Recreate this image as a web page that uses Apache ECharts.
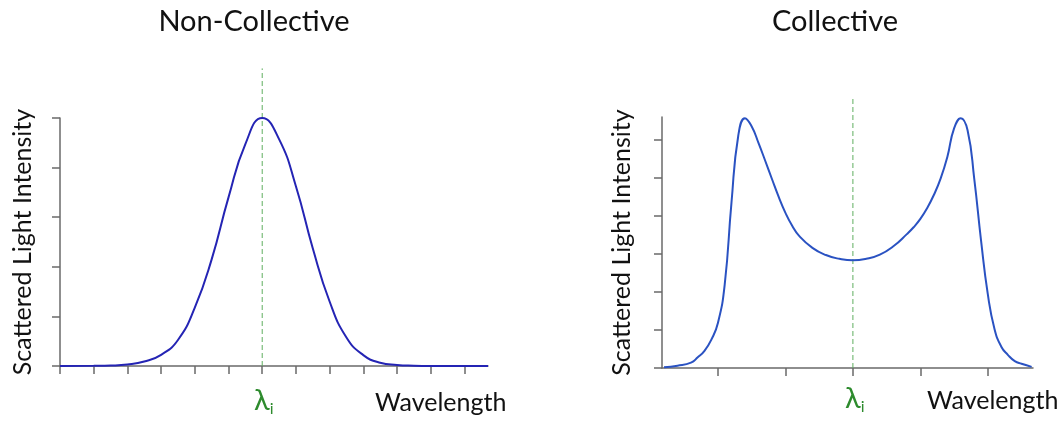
<!DOCTYPE html>
<html>
<head>
<meta charset="utf-8">
<script src="https://cdn.jsdelivr.net/npm/echarts@6/dist/echarts.min.js"></script>
<style>
  html, body { margin: 0; padding: 0; background: #fff; }
  #main { width: 1060px; height: 425px; }
</style>
</head>
<body>
<div id="main"></div>
<script>
// wavelength offsets from lambda_i (in tick units) and intensity
var nonCollX = [-6.0, -5.0, -4.5, -4.0, -3.5, -3.0, -2.5, -2.0, -1.5, -1.0, -0.5, 0,
    0.5, 1.0, 1.5, 2.0, 2.5, 3.0, 3.5, 4.0, 4.5, 5.0, 6.7];
var nonCollY = [0, 0.001, 0.002, 0.006, 0.018, 0.045, 0.105, 0.235, 0.43, 0.68, 0.895, 1.0,
    0.915, 0.725, 0.475, 0.26, 0.115, 0.044, 0.013, 0.004, 0.001, 0, 0];

var collX = [-2.8, -2.6, -2.4, -2.3, -2.2, -2.1, -2.0, -1.9, -1.8, -1.7, -1.6, -1.5, -1.4, -1.3,
    -1.2, -1.1, -1.0, -0.9, -0.8, -0.6, -0.4, -0.2, 0, 0.2, 0.4, 0.6, 0.8, 0.9, 1.0, 1.1, 1.2,
    1.3, 1.4, 1.5, 1.6, 1.7, 1.8, 1.9, 2.0, 2.1, 2.2, 2.3, 2.4, 2.5, 2.65];
var collY = [0.02, 0.06, 0.14, 0.28, 0.45, 0.74, 1.19, 2.2, 4.35, 6.1, 6.57, 6.35, 5.92, 5.45,
    4.97, 4.5, 4.08, 3.74, 3.48, 3.16, 2.97, 2.87, 2.83, 2.87, 2.98, 3.2, 3.52, 3.7, 3.92, 4.2, 4.55,
    4.98, 5.55, 6.3, 6.57, 6.25, 4.96, 3.35, 1.94, 1.02, 0.56, 0.34, 0.18, 0.11, 0.03];

// tick positions
var nonCollXTicks = [-6, -5, -4, -3, -2, -1, 0, 1, 2, 3, 4, 5, 6];
var nonCollYTicks = [0, 0.2, 0.4, 0.6, 0.8, 1.0];
var collXTicks = [-2, -1, 0, 1, 2];
var collYTicks = [0, 1, 2, 3, 4, 5, 6];

var titles = ['Non-Collective', 'Collective'];
var yName = 'Scattered Light Intensity';
var xName = 'Wavelength';

function pairs(xs, ys) {
    return xs.map(function (x, i) { return [x, ys[i]]; });
}

var font = 'Lato, "Open Sans", sans-serif';
var axisColor = '#6a6a6a';
var green = '#5fae5f';

function xAxisOf(idx, min, max, ticks) {
    return {
        type: 'value', gridIndex: idx, min: min, max: max,
        axisLine: { onZero: false, lineStyle: { color: axisColor, width: 1.5 } },
        axisTick: { show: true, customValues: ticks, length: 8, lineStyle: { color: axisColor, width: 1.5 } },
        axisLabel: { show: false },
        splitLine: { show: false }
    };
}

function yAxisOf(idx, max, ticks, gap) {
    return {
        type: 'value', gridIndex: idx, min: 0, max: max,
        name: yName, nameLocation: 'middle', nameRotate: 90, nameGap: gap,
        nameTextStyle: { fontFamily: font, fontSize: 25, color: '#111' },
        axisLine: { show: true, onZero: false, lineStyle: { color: axisColor, width: 1.5 } },
        axisTick: { show: true, customValues: ticks, length: 8, lineStyle: { color: axisColor, width: 1.5 } },
        axisLabel: { show: false },
        splitLine: { show: false }
    };
}

var lambdaRich = {
    l: { fontFamily: font, fontSize: 29, fill: '#2e8b2e' },
    s: { fontFamily: font, fontSize: 16, fill: '#2e8b2e', padding: [16, 0, 0, 0] }
};

var myChart = echarts.init(document.getElementById('main'));

var option = {
    backgroundColor: '#fff',
    animation: false,
    title: [
        { text: titles[0], left: 249, top: 2, textAlign: 'center',
          textStyle: { fontFamily: font, fontSize: 29, fontWeight: 'normal', color: '#111' } },
        { text: titles[1], left: 830, top: 2, textAlign: 'center',
          textStyle: { fontFamily: font, fontSize: 29, fontWeight: 'normal', color: '#111' } }
    ],
    grid: [
        { left: 60, top: 118, width: 428, height: 248 },
        { left: 662, top: 117, width: 371, height: 251 }
    ],
    xAxis: [
        xAxisOf(0, -6, 6.7, nonCollXTicks),
        xAxisOf(1, -2.83, 2.67, collXTicks)
    ],
    yAxis: [
        yAxisOf(0, 1, nonCollYTicks, 25),
        yAxisOf(1, 6.6, collYTicks, 28)
    ],
    series: [
        {
            type: 'line', xAxisIndex: 0, yAxisIndex: 0, clip: false, silent: true,
            data: [[0, 0], [0, 1.2]], symbol: 'none',
            lineStyle: { color: green, width: 1, type: [5, 3] }
        },
        {
            type: 'line', xAxisIndex: 1, yAxisIndex: 1, clip: false, silent: true,
            data: [[0, 0], [0, 7.1]], symbol: 'none',
            lineStyle: { color: green, width: 1, type: [5, 3] }
        },
        {
            name: titles[0], type: 'line', xAxisIndex: 0, yAxisIndex: 0,
            data: pairs(nonCollX, nonCollY), smooth: 0.5, symbol: 'none', clip: false,
            lineStyle: { color: '#2424b4', width: 2 }
        },
        {
            name: titles[1], type: 'line', xAxisIndex: 1, yAxisIndex: 1,
            data: pairs(collX, collY), smooth: 0.5, symbol: 'none', clip: false,
            lineStyle: { color: '#2a52c2', width: 2 }
        }
    ],
    graphic: [
        { type: 'text', left: 254, top: 386, style: { text: '{l|λ}{s|i}', rich: lambdaRich } },
        { type: 'text', left: 845, top: 384, style: { text: '{l|λ}{s|i}', rich: lambdaRich } },
        { type: 'text', left: 375, top: 390, style: { text: xName, fontFamily: font, fontSize: 25, fill: '#111' } },
        { type: 'text', left: 927, top: 388, style: { text: xName, fontFamily: font, fontSize: 25, fill: '#111' } }
    ]
};

myChart.setOption(option);
</script>
</body>
</html>
